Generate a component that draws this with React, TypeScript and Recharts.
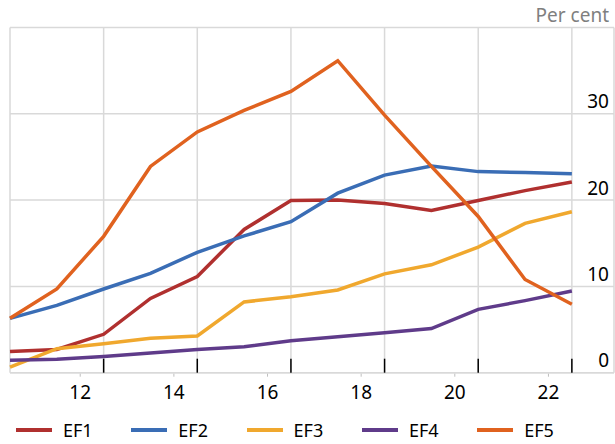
import React from "react";
import { LineChart, Line, XAxis, YAxis, CartesianGrid, Legend } from "recharts";

// x positions of the yearly observations (labels sit on even years)
const periods = [10.5, 11.5, 12.5, 13.5, 14.5, 15.5, 16.5, 17.5, 18.5, 19.5, 20.5, 21.5, 22.5];
const gridTicks = [10.5, 12.5, 14.5, 16.5, 18.5, 20.5, 22.5];
const yearTicks = [12, 14, 16, 18, 20, 22];
const valueTicks = [0, 10, 20, 30, 40];

const ef1 = [2.45, 2.7, 4.45, 8.6, 11.15, 16.6, 19.95, 20.0, 19.6, 18.8, 19.95, 21.1, 22.1];
const ef2 = [6.3, 7.8, 9.7, 11.5, 13.95, 15.85, 17.5, 20.8, 22.9, 23.95, 23.3, 23.2, 23.05];
const ef3 = [0.65, 2.78, 3.35, 4.0, 4.25, 8.2, 8.8, 9.58, 11.45, 12.5, 14.55, 17.3, 18.65];
const ef4 = [1.45, 1.55, 1.88, 2.28, 2.7, 3.0, 3.7, 4.17, 4.62, 5.12, 7.34, 8.35, 9.47];
const ef5 = [6.3, 9.7, 15.8, 23.9, 27.9, 30.4, 32.6, 36.15, 29.85, 23.9, 18.1, 10.8, 7.93];

const series = [
  { key: "EF1", color: "#b0302f" },
  { key: "EF2", color: "#3a6db5" },
  { key: "EF3", color: "#f0a82e" },
  { key: "EF4", color: "#5f3b8a" },
  { key: "EF5", color: "#e0621f" },
];

const data = periods.map((x, i) => ({
  x,
  EF1: ef1[i],
  EF2: ef2[i],
  EF3: ef3[i],
  EF4: ef4[i],
  EF5: ef5[i],
}));

// major tick marks point up into the plot; none on the left edge
const renderMajorTick = (props: any) => {
  const { x, y, payload } = props;
  if (payload.value === gridTicks[0]) return <g />;
  return <line x1={x} x2={x} y1={y} y2={y - 14} stroke="#000" strokeWidth={1.5} />;
};

const renderValueTick = (props: any) => {
  const { x, y, payload } = props;
  const top = payload.value === 40;
  return (
    <text
      x={x - 5}
      y={y - 5.5}
      textAnchor="end"
      fontSize={19}
      fill={top ? "#7f7f7f" : "#000"}
    >
      {top ? "Per cent" : payload.value}
    </text>
  );
};

const LegendContent = () => (
  <div style={{ display: "flex", paddingLeft: 16, height: 30, alignItems: "center" }}>
    {series.map((s) => (
      <div key={s.key} style={{ width: 115.3, display: "flex", alignItems: "center" }}>
        <span style={{ width: 36, height: 4, background: s.color, marginRight: 11 }} />
        <span style={{ fontSize: 18, color: "#000", lineHeight: "30px" }}>{s.key}</span>
      </div>
    ))}
  </div>
);

export default function App() {
  return (
    <div style={{ position: "absolute", left: 0, top: 0, fontFamily: "'Noto Sans', sans-serif" }}>
      <LineChart
        width={615}
        height={444}
        data={data}
        margin={{ top: 27.5, right: 0, left: 10, bottom: 40.3 }}
      >
        <CartesianGrid stroke="#d9d9d9" strokeWidth={1.5} />
        <XAxis
          dataKey="x"
          type="number"
          domain={[10.5, 23.4]}
          ticks={gridTicks}
          height={1}
          tickLine={false}
          tickSize={0}
          tickMargin={0}
          axisLine={{ stroke: "#d9d9d9", strokeWidth: 1.5 }}
          tick={renderMajorTick}
          interval={0}
        />
        <XAxis
          xAxisId="lab"
          dataKey="x"
          type="number"
          domain={[10.5, 23.4]}
          allowDataOverflow
          ticks={yearTicks}
          height={30}
          axisLine={false}
          tickSize={3}
          tickMargin={9}
          tickLine={{ stroke: "#bfbfbf" }}
          tick={{ fontSize: 19, fill: "#000" }}
          interval={0}
        />
        <YAxis
          orientation="right"
          type="number"
          domain={[0, 40]}
          ticks={valueTicks}
          width={1}
          axisLine={false}
          tickLine={false}
          tickSize={0}
          tickMargin={0}
          tick={renderValueTick}
          interval={0}
        />
        <Legend
          layout="horizontal"
          verticalAlign="middle"
          align="center"
          content={<LegendContent />}
          wrapperStyle={{ top: 415, left: 0, width: 615 }}
        />
        {series.map((s) => (
          <Line
            key={s.key}
            dataKey={s.key}
            stroke={s.color}
            strokeWidth={3.5}
            dot={false}
            activeDot={false}
            isAnimationActive={false}
          />
        ))}
      </LineChart>
    </div>
  );
}
